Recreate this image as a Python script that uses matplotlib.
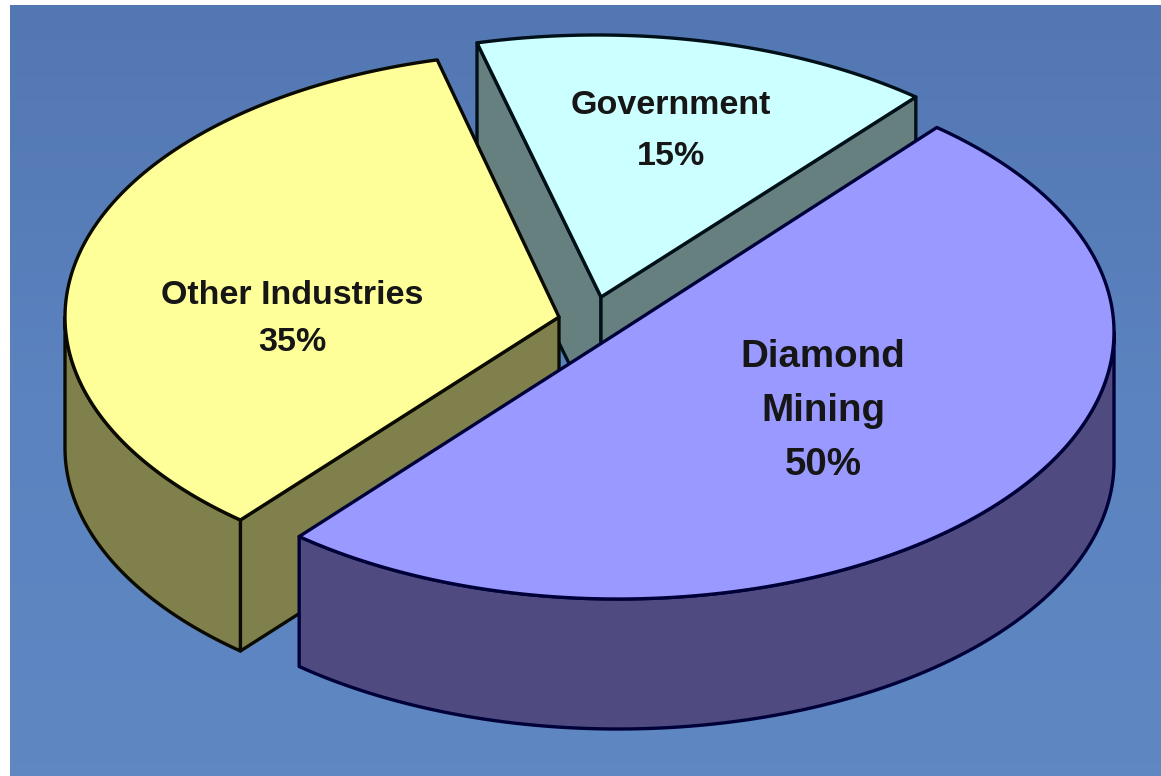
import matplotlib
matplotlib.use('Agg')
import matplotlib.pyplot as plt
from matplotlib.colors import LinearSegmentedColormap
import numpy as np

# sector data, clockwise from the top right
labels = ['Diamond\nMining', 'Other Industries', 'Government']
shares = [50, 35, 15]

W, H = 1161, 776
RADII = [(496, 267), (491, 265), (496, 265)]   # ellipse radii of the tilted disc
START = 50           # degrees, sectors run clockwise from here

apexes = [(619, 332), (559, 317), (601, 297)]
centers = [(618, 332), (556, 317), (597, 300)]
depths = [130, 131, 132]
tops = ['#9999ff', '#ffff99', '#ccffff']
walls = ['#4f4a80', '#80804d', '#668080']
edges = ['#000038', '#0a0a00', '#001018']
label_pos = [(823, 411), (292, 316), (671, 131)]
font_sizes = [27.7, 24.5, 24.5]
spacing = [1.66, 1.63, 1.8]

fig = plt.figure(figsize=(W / 100, H / 100), dpi=100, facecolor='white')
ax = fig.add_axes([0, 0, 1, 1])

# blue backdrop, darker towards the top
cmap = LinearSegmentedColormap.from_list('bg', ['#5377b2', '#5b83bf', '#5f87c2'])
ax.imshow(np.linspace(0, 1, 64).reshape(-1, 1), cmap=cmap, aspect='auto',
          extent=[10, W, H, 5], zorder=0)
ax.set_xlim(0, W)
ax.set_ylim(H, 0)
ax.axis('off')


def rim(i, t0, t1):
    c = centers[i]
    a, b = RADII[i]
    t = np.radians(np.linspace(t0, t1, 200))
    return np.column_stack([c[0] + a * np.cos(t), c[1] - b * np.sin(t)])


def wall(points, i):
    pts = np.vstack([points, points[::-1] + [0, depths[i]]])
    ax.fill(*pts.T, facecolor=walls[i], edgecolor=edges[i], linewidth=2.4,
            joinstyle='round')


# sector angles from the shares
ends = START - np.cumsum(shares) * 3.6
starts = np.r_[START, ends[:-1]]

# back sectors first, diamond goes over them
for i in [2, 1, 0]:
    apex, t0, t1 = apexes[i], starts[i], ends[i]

    # flat cut faces that can be seen
    if i == 2:
        wall(np.vstack([apex, rim(i, t0, t0)[:1]]), i)
        wall(np.vstack([apex, rim(i, t1, t1)[:1]]), i)
    if i == 1:
        wall(np.vstack([apex, rim(i, t0, t0)[:1]]), i)

    # curved outer wall, only the front half of the disc
    if i == 0:
        wall(rim(i, 0, t1), i)
    if i == 1:
        wall(rim(i, -180, t0), i)

    # top face
    top = np.vstack([apex, rim(i, t0, t1)])
    ax.fill(*top.T, facecolor=tops[i], edgecolor=edges[i], linewidth=2.4,
            joinstyle='round')

for i in range(3):
    ax.text(label_pos[i][0], label_pos[i][1] + (3 if i == 1 else 0),
            f'{labels[i]}\n{shares[i]}%', ha='center', va='center',
            family='Liberation Sans', fontweight='bold', fontsize=font_sizes[i],
            linespacing=spacing[i], color='#161616')

fig.savefig('out.png', dpi=100)
